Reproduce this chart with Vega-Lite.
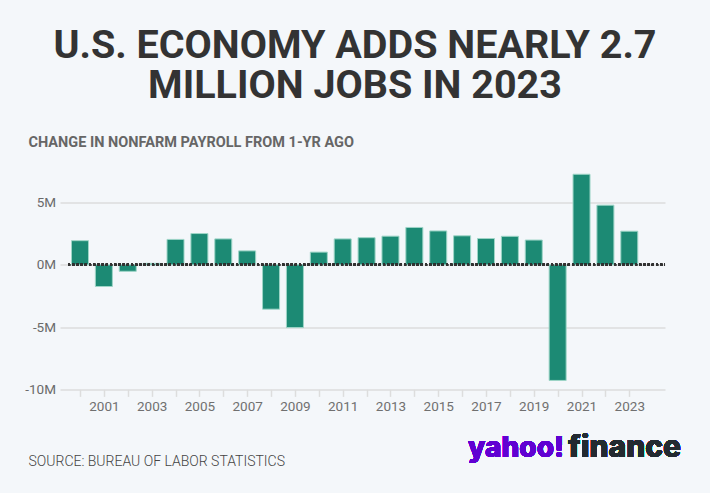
{
  "$schema": "https://vega.github.io/schema/vega-lite/v6.json",
  "width": 605,
  "height": 218,
  "autosize": "none",
  "padding": {"left": 60, "top": 171.4, "right": 45, "bottom": 103.6},
  "background": "#f4f7fa",
  "title": {
    "text": ["U.S. ECONOMY ADDS NEARLY 2.7", "MILLION JOBS IN 2023"],
    "anchor": "middle",
    "frame": "group",
    "baseline": "top",
    "offset": 0,
    "dx": -7.5,
    "dy": -28.5,
    "font": "Roboto",
    "fontSize": 39.5,
    "fontWeight": "bold",
    "color": "#333333",
    "lineHeight": 39.5
  },
  "config": {
    "view": {"stroke": null},
    "axis": {"labelFont": "Roboto", "titleFont": "Roboto"}
  },
  "data": {
    "values": [
      {"year": 2000, "change": 1.94},
      {"year": 2001, "change": -1.74},
      {"year": 2002, "change": -0.52},
      {"year": 2003, "change": 0.12},
      {"year": 2004, "change": 2.04},
      {"year": 2005, "change": 2.51},
      {"year": 2006, "change": 2.08},
      {"year": 2007, "change": 1.12},
      {"year": 2008, "change": -3.56},
      {"year": 2009, "change": -5.04},
      {"year": 2010, "change": 1.02},
      {"year": 2011, "change": 2.08},
      {"year": 2012, "change": 2.18},
      {"year": 2013, "change": 2.30},
      {"year": 2014, "change": 3.00},
      {"year": 2015, "change": 2.72},
      {"year": 2016, "change": 2.33},
      {"year": 2017, "change": 2.11},
      {"year": 2018, "change": 2.29},
      {"year": 2019, "change": 1.99},
      {"year": 2020, "change": -9.28},
      {"year": 2021, "change": 7.27},
      {"year": 2022, "change": 4.79},
      {"year": 2023, "change": 2.70}
    ]
  },
  "layer": [
    {
      "mark": {"type": "bar", "width": 17, "fill": "#1c8a74", "stroke": "#9ed5c7", "strokeWidth": 1},
      "encoding": {
        "x": {
          "field": "year",
          "type": "quantitative",
          "scale": {"domain": [1999.163, 2024.495], "nice": false, "zero": false, "padding": 0},
          "axis": {
            "values": [2000,2001,2002,2003,2004,2005,2006,2007,2008,2009,2010,2011,2012,2013,2014,2015,2016,2017,2018,2019,2020,2021,2022,2023],
            "tickCount": 50,
            "format": "d",
            "labelExpr": "datum.value % 2 == 1 ? datum.label : ''",
            "labelOverlap": false,
            "labelFlush": false,
            "grid": false,
            "domain": false,
            "tickColor": "#dddddd",
            "tickWidth": 1.5,
            "tickSize": 7,
            "labelFontSize": 13.5,
            "labelColor": "#707070",
            "labelPadding": 3,
            "title": "SOURCE: BUREAU OF LABOR STATISTICS",
            "titleX": -32,
            "titleY": 75.6,
            "titleAlign": "left",
            "titleAnchor": "start",
            "titleBaseline": "alphabetic",
            "titleFont": "Roboto",
            "titleFontWeight": 300,
            "titleFontSize": 14,
            "titleColor": "#444444"
          }
        },
        "y": {
          "field": "change",
          "type": "quantitative",
          "scale": {"domain": [-10, 7.5], "nice": false, "zero": false},
          "axis": {
            "values": [-10, -5, 0, 5],
            "labelExpr": "datum.value + 'M'",
            "grid": true,
            "gridColor": "#dddddd",
            "gridWidth": 1.5,
            "domain": false,
            "ticks": false,
            "labelPadding": 4.5,
            "labelFontSize": 13.5,
            "labelColor": "#6a6a6a",
            "title": "CHANGE IN NONFARM PAYROLL FROM 1-YR AGO",
            "titleAngle": 0,
            "titleX": -32,
            "titleY": -24.7,
            "titleAlign": "left",
            "titleAnchor": "start",
            "titleBaseline": "alphabetic",
            "titleFont": "Roboto",
            "titleFontWeight": "bold",
            "titleFontSize": 14.5,
            "titleColor": "#666666"
          }
        },
        "y2": {"datum": 0}
      }
    },
    {
      "mark": {"type": "rule", "stroke": "#333333", "strokeWidth": 2, "strokeDash": [2, 2.2]},
      "encoding": {
        "x": {"datum": 1999.5},
        "x2": {"datum": 2024.495},
        "y": {"datum": 0}
      }
    },
    {
      "mark": {"type": "text", "text": "yahoo!", "align": "left", "baseline": "alphabetic", "font": "Inter", "fontWeight": 800, "fontSize": 28, "fill": "#6001d2"},
      "encoding": {
        "x": {"datum": 2016.25},
        "y": {"datum": -15.46}
      }
    },
    {
      "mark": {"type": "text", "text": "finance", "align": "right", "baseline": "alphabetic", "font": "Inter", "fontWeight": 800, "fontSize": 30, "fill": "#232a31"},
      "encoding": {
        "x": {"datum": 2025.17},
        "y": {"datum": -15.46}
      }
    }
  ]
}
